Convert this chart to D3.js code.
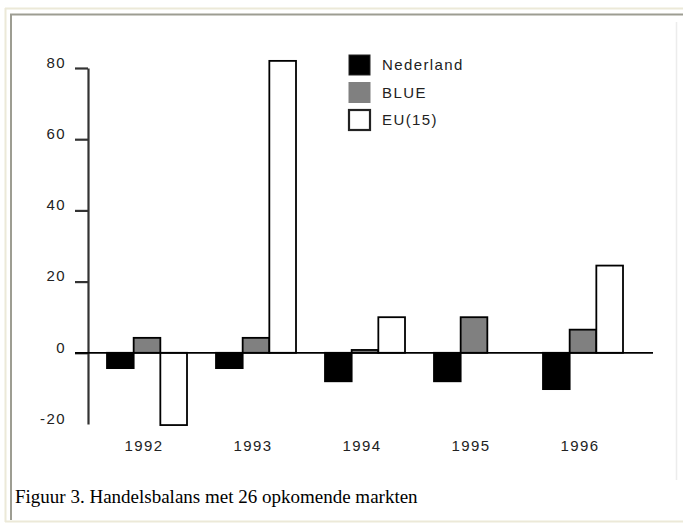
<!DOCTYPE html>
<html lang="nl">
<head>
    <meta charset="UTF-8">
    <title>Handelsbalans met 26 opkomende markten</title>
    <script src="https://d3js.org/d3.v7.min.js"></script>
    <style>
        body {
            margin: 0;
            background: #fff;
        }
        svg {
            display: block;
        }
        .lbl {
            font-family: Arial, "Liberation Sans", sans-serif;
            font-size: 15px;
            letter-spacing: 1.4px;
            fill: #222;
        }
        .caption {
            font-family: "Times New Roman", "Liberation Serif", serif;
            font-size: 19px;
            fill: #000;
        }
    </style>
</head>
<body>
<div id="chart"></div>
<script>
    // chart values
    const years = ["1992", "1993", "1994", "1995", "1996"];
    const series = ["Nederland", "BLUE", "EU(15)"];
    const nederland = [-4.3, -4.3, -8, -8, -10.2];
    const blue = [4.2, 4.2, 0.8, 10, 6.5];
    const eu15 = [-20.3, 82, 10, 0, 24.5];
    const yTicks = [-20, 0, 20, 40, 60, 80];
    const captionText = "Figuur 3. Handelsbalans met 26 opkomende markten";

    const colors = ["#000000", "#808080", "#ffffff"];
    const values = [nederland, blue, eu15];

    const width = 683, height = 523;

    const svg = d3.select("#chart").append("svg")
        .attr("width", width)
        .attr("height", height);

    // window-like frame
    svg.append("line").attr("x1", 5).attr("x2", width).attr("y1", 8.5).attr("y2", 8.5)
        .attr("stroke", "#ece9d8").attr("stroke-width", 2);
    svg.append("line").attr("x1", 5.5).attr("x2", 5.5).attr("y1", 8).attr("y2", 522)
        .attr("stroke", "#ece9d8").attr("stroke-width", 2);
    svg.append("line").attr("x1", 5).attr("x2", width).attr("y1", 521.5).attr("y2", 521.5)
        .attr("stroke", "#ece9d8").attr("stroke-width", 2);
    svg.append("line").attr("x1", 10).attr("x2", width).attr("y1", 14.5).attr("y2", 14.5)
        .attr("stroke", "#9d9d92").attr("stroke-width", 2);
    svg.append("line").attr("x1", 11).attr("x2", 11).attr("y1", 14).attr("y2", 520)
        .attr("stroke", "#9d9d92").attr("stroke-width", 2);
    svg.append("line").attr("x1", 676.5).attr("x2", 676.5).attr("y1", 22).attr("y2", 480)
        .attr("stroke", "#ececec").attr("stroke-width", 1.5);

    // scales
    const x0 = d3.scaleBand()
        .domain(years)
        .range([107, 623])
        .paddingInner(0.266)
        .paddingOuter(0);

    const x1 = d3.scaleBand()
        .domain(series)
        .range([0, x0.bandwidth()])
        .padding(0);

    const y = d3.scaleLinear()
        .domain([-20, 80])
        .range([424, 68]);

    // y axis (plain hyphen for negatives, as in the original)
    const yAxis = svg.append("g")
        .attr("transform", "translate(88,0)")
        .call(d3.axisLeft(y).tickValues(yTicks).tickFormat(d => String(d))
            .tickSize(13).tickSizeOuter(0).tickPadding(9));
    yAxis.select(".domain").attr("stroke", "#333").attr("stroke-width", 2.2);
    yAxis.selectAll(".tick line")
        .attr("stroke", "#333").attr("stroke-width", 2.2)
        .attr("x2", d => d === -20 ? 0 : -13);
    yAxis.selectAll(".tick text")
        .attr("class", "lbl")
        .attr("dy", "-0.05em");
    yAxis.attr("font-size", null).attr("font-family", null);

    // bars
    const groups = svg.selectAll(".year")
        .data(years)
        .join("g")
        .attr("class", "year")
        .attr("transform", d => `translate(${x0(d)},0)`);

    groups.selectAll("rect")
        .data((d, i) => series.map((s, j) => ({ s, j, v: values[j][i] })))
        .join("rect")
        .filter(d => d.v !== 0)
        .attr("x", d => x1(d.s))
        .attr("y", d => y(Math.max(0, d.v)))
        .attr("width", x1.bandwidth())
        .attr("height", d => Math.abs(y(d.v) - y(0)))
        .attr("fill", d => colors[d.j])
        .attr("stroke", "#000")
        .attr("stroke-width", 1.8);

    // zero line
    svg.append("line")
        .attr("x1", 75).attr("x2", 653)
        .attr("y1", y(0)).attr("y2", y(0))
        .attr("stroke", "#000").attr("stroke-width", 1.8);

    // year labels
    svg.selectAll(".year-label")
        .data(years)
        .join("text")
        .attr("class", "lbl")
        .attr("x", d => x0(d) + x0.bandwidth() / 2 - 3)
        .attr("y", 451)
        .attr("text-anchor", "middle")
        .text(d => d);

    // legend
    const legend = svg.append("g").attr("transform", "translate(349,55)");
    const item = legend.selectAll("g")
        .data(series)
        .join("g")
        .attr("transform", (d, i) => `translate(0,${i * 27.5})`);
    item.append("rect")
        .attr("width", 21).attr("height", 20)
        .attr("fill", (d, i) => colors[i])
        .attr("stroke", (d, i) => i === 1 ? colors[i] : "#222")
        .attr("stroke-width", (d, i) => i === 2 ? 2.2 : 1);
    item.append("text")
        .attr("class", "lbl")
        .attr("x", 33)
        .attr("y", 15)
        .text(d => d);

    // caption
    svg.append("text")
        .attr("class", "caption")
        .attr("x", 15)
        .attr("y", 503)
        .text(captionText);
</script>
</body>
</html>
